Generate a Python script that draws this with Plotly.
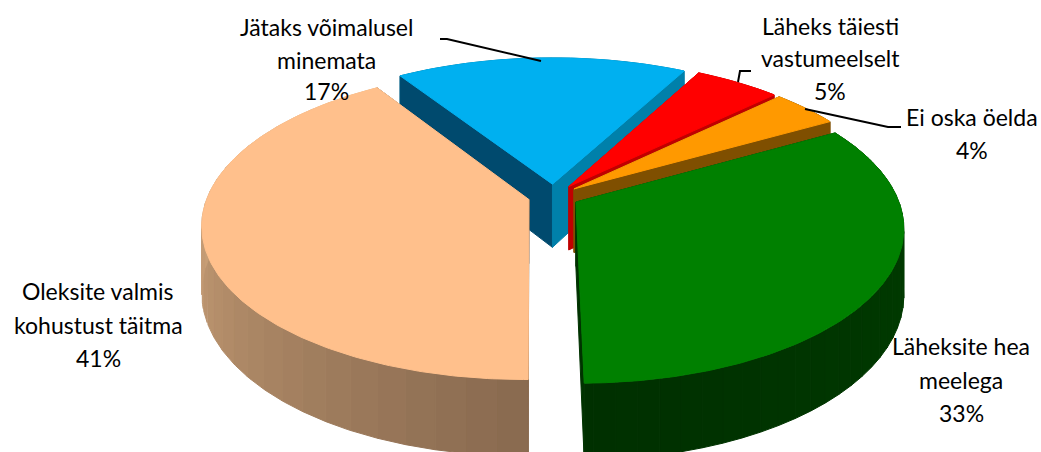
import numpy as np
import plotly.graph_objects as go

categories = ["Jätaks võimalusel<br>minemata", "Läheks täiesti<br>vastumeelselt", "Ei oska öelda",
              "Läheksite hea<br>meelega", "Oleksite valmis<br>kohustust täitma"]
values = [17, 5, 4, 33, 41]
top_colors = ["#00B0F0", "#FF0000", "#FF9900", "#008000", "#FFC08C"]
left_wall = ["#004A6E", "#B00000", "#7F4F00", "#003300", "#8A6B50"]
right_wall = ["#0080AA", "#C00000", "#7F4F00", "#003300", "#8A6B50"]
# arc wall shade (start colour, end colour) clockwise
arc_wall = [("#0080AA", "#0080AA"), ("#C00000", "#C00000"), ("#7F4F00", "#7F4F00"),
            ("#004000", "#003000"), ("#8A6B50", "#F0C090")]

W, H = 1041, 452
CX, CY = 553.5, 196.0
RX, RY = 321.0, 150.0
K = 0.16
EXPLODE = 0.08
DEPTH = 64.0
START_DEG = -33.0


def rgb(c):
    return np.array([int(c[i:i + 2], 16) for i in (1, 3, 5)], float)


def mix(a, b, t):
    v = rgb(a) * (1 - t) + rgb(b) * t
    return "rgb(%d,%d,%d)" % tuple(v)


def project(u, v, down=0.0):
    s = 1.0 / (1.0 - K * v)
    return CX + RX * u * s, CY + RY * v * s + down * s


def poly(xs, ys, color):
    return go.Scatter(x=list(xs), y=list(ys), mode="lines", fill="toself", fillcolor=color,
                      line=dict(color=color, width=1), hoverinfo="skip", showlegend=False)


fig = go.Figure()
cum = START_DEG
for i, val in enumerate(values):
    span = val * 3.6
    a0, a1 = np.radians(cum), np.radians(cum + span)
    mid = (a0 + a1) / 2
    cum += span
    ou, ov = EXPLODE * np.sin(mid), -EXPLODE * np.cos(mid)
    ang = np.linspace(a0, a1, max(12, int(span * 1.5)))
    u = ou + np.sin(ang)
    v = ov - np.cos(ang)
    # outer wall as shaded strips
    n = len(ang)
    step = max(1, n // 30)
    for j in range(0, n - 1, step):
        k = min(j + step, n - 1)
        t = j / max(1, n - 2)
        col = mix(arc_wall[i][0], arc_wall[i][1], t)
        xa, ya = project(u[j:k + 1], v[j:k + 1])
        xb, yb = project(u[j:k + 1], v[j:k + 1], DEPTH)
        fig.add_trace(poly(np.r_[xa, xb[::-1], xa[0]], np.r_[ya, yb[::-1], ya[0]], col))
    # radial walls
    for (eu, ev, col) in ((u[0], v[0], left_wall[i]), (u[-1], v[-1], right_wall[i])):
        p0 = project(ou, ov)
        p1 = project(eu, ev)
        p2 = project(eu, ev, DEPTH)
        p3 = project(ou, ov, DEPTH)
        fig.add_trace(poly([p0[0], p1[0], p2[0], p3[0], p0[0]], [p0[1], p1[1], p2[1], p3[1], p0[1]], col))
    # top face
    xt, yt = project(np.r_[ou, u, ou], np.r_[ov, v, ov])
    fig.add_trace(poly(xt, yt, top_colors[i]))

# label layout (centre x, centre y of each text line)
label_pos = [
    [(326, 27), (326, 60), (326, 91)],
    [(830, 26), (830, 58), (830, 91)],
    [(972, 117), (972, 150)],
    [(961, 346), (961, 380), (961, 413)],
    [(98, 291), (98, 325), (98, 358)],
]
for i, cat in enumerate(categories):
    lines = cat.split("<br>") + [f"{values[i]}%"]
    for text, (x, y) in zip(lines, label_pos[i]):
        fig.add_annotation(x=x, y=y, text=text, showarrow=False, xanchor="center", yanchor="middle",
                           font=dict(family="Lato, Carlito, sans-serif", size=23, color="#000000"))

leaders = [
    [(440, 39), (447, 39), (541, 61)],
    [(751, 71), (740, 71), (738, 82)],
    [(805, 109), (888, 127), (901, 127)],
]
for pts in leaders:
    fig.add_trace(go.Scatter(x=[p[0] for p in pts], y=[p[1] for p in pts], mode="lines",
                             line=dict(color="#000000", width=2), hoverinfo="skip", showlegend=False))

fig.update_layout(
    width=W, height=H, margin=dict(l=0, r=0, t=0, b=0), paper_bgcolor="white", plot_bgcolor="white",
    xaxis=dict(range=[0, W], visible=False, fixedrange=True),
    yaxis=dict(range=[H, 0], visible=False, fixedrange=True),
    showlegend=False,
)
fig.write_html("out.html", config={"displayModeBar": False},
               post_script="document.body.style.margin='0';document.documentElement.style.overflow='hidden';")
